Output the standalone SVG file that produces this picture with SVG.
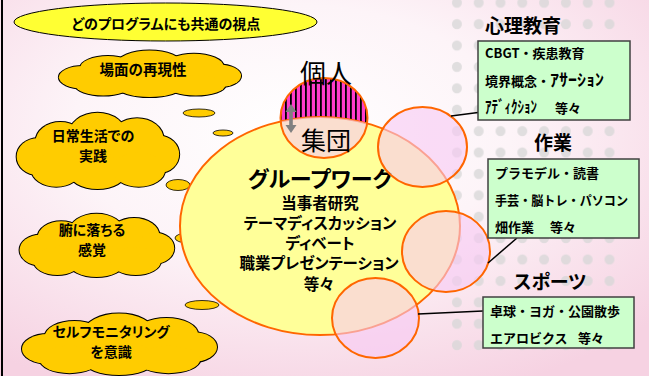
<svg xmlns="http://www.w3.org/2000/svg" xmlns:xlink="http://www.w3.org/1999/xlink" width="649" height="376" viewBox="0 0 649 376">
<style>
.t{font-family:"Noto Sans CJK JP","Noto Sans CJK SC",sans-serif;font-weight:700;fill:#000;font-feature-settings:"palt";}
.c{text-anchor:middle;}
.cl{font-size:14px;}
.bx{font-size:13px;font-feature-settings:normal;}
.hw{font-size:16.5px;}
.ttl{font-size:19px;}
.gw{font-size:15.5px;}
.trail{fill:#FFCC00;stroke:#000;stroke-width:0.8;}
.pk{fill:#F7C8F4;fill-opacity:0.6;stroke:#FF6600;stroke-width:2;}
.box{fill:#CCFFCC;stroke:#404040;stroke-width:1.5;}
.conn{stroke:#000;stroke-width:1.5;fill:none;}
</style>
<defs>
<radialGradient id="bg" cx="45%" cy="35%" r="75%">
<stop offset="0" stop-color="#FFFFFF"/>
<stop offset="0.45" stop-color="#FDF4F8"/>
<stop offset="1" stop-color="#F6D2E2"/>
</radialGradient>
<pattern id="dots" x="446" y="-8" width="21.8" height="21.4" patternUnits="userSpaceOnUse">
<circle cx="10.9" cy="10.7" r="5" fill="#D6D6D6" fill-opacity="0.75"/>
</pattern>
<pattern id="stripes" x="0" y="0" width="5" height="10" patternUnits="userSpaceOnUse">
<rect width="5" height="10" fill="#FF3CCB"/>
<rect width="1.8" height="10" fill="#000"/>
</pattern>
<clipPath id="bigclip"><ellipse cx="320" cy="226" rx="140" ry="109"/></clipPath>
<g id="cloudshape">
<ellipse cx="100" cy="55" rx="75" ry="30" vector-effect="non-scaling-stroke"/>
<ellipse cx="55" cy="38" rx="30" ry="25" vector-effect="non-scaling-stroke"/>
<ellipse cx="100" cy="30" rx="35" ry="29" vector-effect="non-scaling-stroke"/>
<ellipse cx="148" cy="35" rx="32" ry="27" vector-effect="non-scaling-stroke"/>
<ellipse cx="28" cy="58" rx="26" ry="24" vector-effect="non-scaling-stroke"/>
<ellipse cx="175" cy="55" rx="24" ry="24" vector-effect="non-scaling-stroke"/>
<ellipse cx="50" cy="75" rx="30" ry="22" vector-effect="non-scaling-stroke"/>
<ellipse cx="100" cy="78" rx="35" ry="22" vector-effect="non-scaling-stroke"/>
<ellipse cx="150" cy="75" rx="32" ry="22" vector-effect="non-scaling-stroke"/>
</g>
</defs>

<!-- background -->
<rect width="649" height="376" fill="url(#bg)"/>
<rect x="446" y="0" width="175" height="357" fill="url(#dots)"/>
<line x1="2" y1="0" x2="2" y2="376" stroke="#000" stroke-width="2"/>

<!-- header -->
<g id="header">
<ellipse cx="165.5" cy="22" rx="151.5" ry="19" fill="#FFFF33" stroke="#000" stroke-width="1"/>
<text class="t c" x="166" y="29" font-size="14">どのプログラムにも共通の視点</text>
</g>

<!-- clouds -->
<g id="cloud1">
<use xlink:href="#cloudshape" transform="translate(57,50) scale(0.925,0.47)" fill="#FFCC00" stroke="#000" stroke-width="2"/>
<use xlink:href="#cloudshape" transform="translate(57,50) scale(0.925,0.47)" fill="#FFCC00" stroke="none"/>
<text class="t c" x="143" y="75" font-size="14.5">場面の再現性</text>
</g>
<g id="cloud2">
<use xlink:href="#cloudshape" transform="translate(15,112) scale(0.825,0.77)" fill="#FFCC00" stroke="#000" stroke-width="2"/>
<use xlink:href="#cloudshape" transform="translate(15,112) scale(0.825,0.77)" fill="#FFCC00" stroke="none"/>
<text class="t c cl" x="93" y="141">日常生活での</text>
<text class="t c cl" x="93" y="161">実践</text>
</g>
<g id="cloud3">
<use xlink:href="#cloudshape" transform="translate(18,213) scale(0.785,0.64)" fill="#FFCC00" stroke="#000" stroke-width="2"/>
<use xlink:href="#cloudshape" transform="translate(18,213) scale(0.785,0.64)" fill="#FFCC00" stroke="none"/>
<text class="t c cl" x="92" y="235">腑に落ちる</text>
<text class="t c cl" x="92" y="255">感覚</text>
</g>
<g id="cloud4">
<use xlink:href="#cloudshape" transform="translate(20,313) scale(0.99,0.62)" fill="#FFCC00" stroke="#000" stroke-width="2"/>
<use xlink:href="#cloudshape" transform="translate(20,313) scale(0.99,0.62)" fill="#FFCC00" stroke="none"/>
<text class="t c cl" x="111" y="337">セルフモニタリング</text>
<text class="t c cl" x="111" y="357">を意識</text>
</g>

<!-- thought trails -->
<g id="trails">
<ellipse class="trail" cx="199" cy="113" rx="16" ry="4"/>
<ellipse class="trail" cx="223" cy="133" rx="10" ry="3"/>
<ellipse class="trail" cx="244" cy="149" rx="5" ry="2"/>
<ellipse class="trail" cx="178" cy="185" rx="12" ry="5.5"/>
<ellipse class="trail" cx="203" cy="197" rx="9" ry="4"/>
<ellipse class="trail" cx="225" cy="206" rx="5" ry="2.5"/>
<ellipse class="trail" cx="188" cy="238" rx="13" ry="5"/>
<ellipse class="trail" cx="209" cy="238" rx="8" ry="4"/>
<ellipse class="trail" cx="221" cy="237" rx="4" ry="2.5"/>
<ellipse class="trail" cx="202" cy="305" rx="17" ry="4.5"/>
<ellipse class="trail" cx="233" cy="292" rx="12" ry="4"/>
<ellipse class="trail" cx="258" cy="281" rx="5" ry="2"/>
</g>

<!-- individual / group circle (striped part under the big ellipse) -->
<g id="kojin">
<ellipse cx="324" cy="118" rx="43.5" ry="40" fill="url(#stripes)"/>
</g>

<!-- group work ellipse -->
<g id="groupwork">
<ellipse cx="320" cy="226" rx="140" ry="109" fill="#FFFF99" stroke="#FF6600" stroke-width="2"/>
<ellipse cx="324" cy="118" rx="43.5" ry="40" fill="#F7C8F4" fill-opacity="0.6" clip-path="url(#bigclip)"/>
<ellipse cx="324" cy="118" rx="43.5" ry="40" fill="none" stroke="#FF6600" stroke-width="2"/>
<text class="t c" x="326" y="83" font-size="26" style="font-weight:400">個人</text>
<text class="t c" x="326" y="150" font-size="25" style="font-weight:400">集団</text>
<polygon points="291,104 296.5,112 292.8,112 292.8,125 296.5,125 291,133 285.5,125 289.2,125 289.2,112 285.5,112" fill="#808080"/>
<text class="t c" x="320" y="187" font-size="22">グループワーク</text>
<text class="t c gw" x="320" y="209">当事者研究</text>
<text class="t c gw" x="320" y="229">テーマディスカッション</text>
<text class="t c gw" x="320" y="249">ディベート</text>
<text class="t c gw" x="319" y="269">職業プレゼンテーション</text>
<text class="t c gw" x="319" y="289.5">等々</text>
</g>

<!-- pink circles -->
<g id="circleA"><ellipse class="pk" cx="422.5" cy="147" rx="44.5" ry="40"/></g>
<g id="circleB"><ellipse class="pk" cx="446" cy="251.5" rx="44" ry="40.5"/></g>
<g id="circleC"><ellipse class="pk" cx="375.5" cy="318" rx="43.5" ry="40"/></g>

<!-- connectors -->
<g id="connectors">
<line class="conn" x1="451" y1="116" x2="478" y2="112.5"/>
<line class="conn" x1="488" y1="263" x2="517" y2="238"/>
<line class="conn" x1="418" y1="314" x2="483" y2="311"/>
</g>

<!-- category: psychology education -->
<g id="shinri">
<text class="t c ttl" x="523" y="33">心理教育</text>
<rect class="box" x="478" y="41" width="152" height="79"/>
<text class="t bx" x="485" y="58">CBGT・疾患教育</text>
<text class="t bx" x="485" y="86">境界概念・<tspan class="hw" x="550" textLength="54" lengthAdjust="spacingAndGlyphs">ｱｻｰｼｮﾝ</tspan></text>
<text class="t bx" x="485" y="113"><tspan class="hw" textLength="52" lengthAdjust="spacingAndGlyphs">ｱﾃﾞｨｸｼｮﾝ</tspan><tspan x="555">等々</tspan></text>
</g>

<!-- category: work -->
<g id="sagyo">
<text class="t c ttl" x="553" y="150">作業</text>
<rect class="box" x="488" y="159" width="151" height="79"/>
<text class="t bx" x="495" y="178">プラモデル・読書</text>
<text class="t bx" x="495" y="205" textLength="133" lengthAdjust="spacingAndGlyphs">手芸・脳トレ・パソコン</text>
<text class="t bx" x="495" y="232">畑作業<tspan x="550">等々</tspan></text>
</g>

<!-- category: sports -->
<g id="sports">
<text class="t c ttl" x="550" y="289">スポーツ</text>
<rect class="box" x="483" y="297" width="151" height="51"/>
<text class="t bx" x="490" y="316">卓球・ヨガ・公園散歩</text>
<text class="t bx" x="490" y="343">エアロビクス<tspan x="578">等々</tspan></text>
</g>
</svg>
